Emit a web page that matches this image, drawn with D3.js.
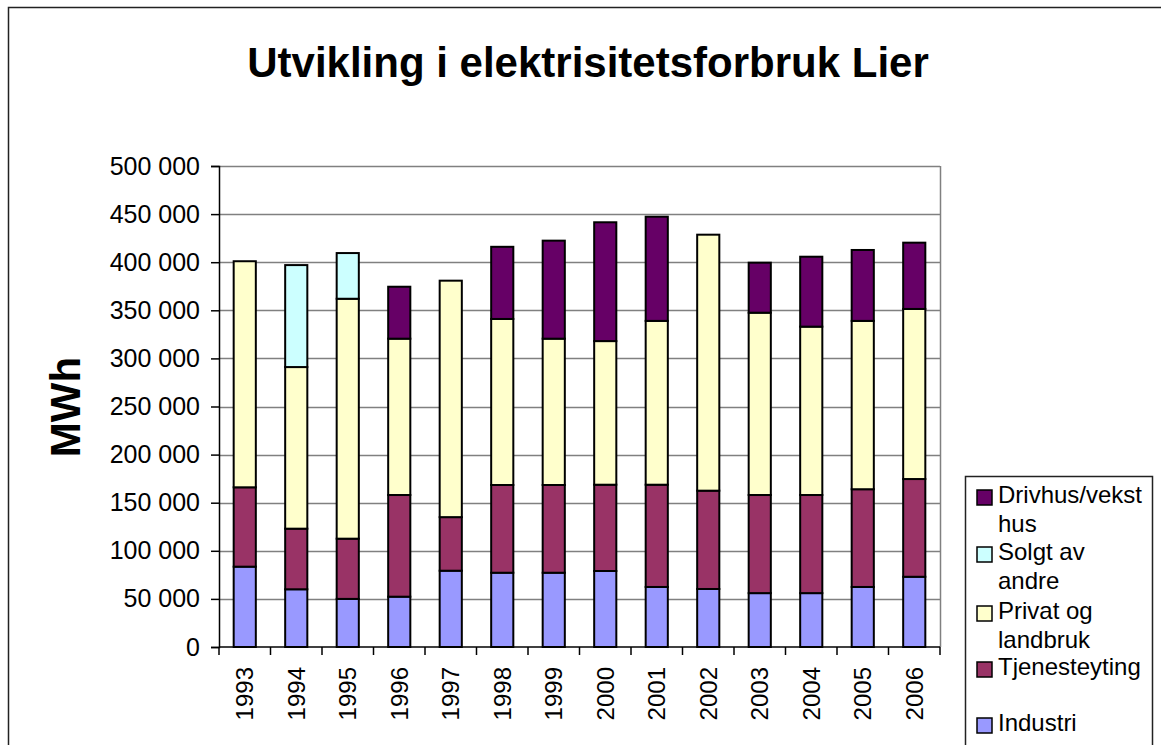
<!DOCTYPE html>
<html>
<head>
<meta charset="utf-8">
<script src="https://cdn.jsdelivr.net/npm/d3@7/dist/d3.min.js"></script>
<style>
  html, body { margin: 0; padding: 0; background: #fff; }
  svg { display: block; font-family: "Liberation Sans", Arial, sans-serif; }
</style>
</head>
<body>
<svg id="chart" width="1161" height="745"></svg>
<script>
// ---- data ----
const years = ["1993","1994","1995","1996","1997","1998","1999","2000","2001","2002","2003","2004","2005","2006"];
const industri      = [83500, 60000, 50000, 52300, 79300, 77200, 77200, 79000, 62400, 60300, 56000, 56000, 62400, 73000];
const tjenesteyting = [82500, 63000, 62600, 105700, 55700, 91200, 91200, 89700, 106300, 102200, 102000, 102000, 101600, 101600];
const privat        = [235000, 168000, 249400, 162500, 245800, 172600, 152100, 149300, 170300, 266100, 189500, 175000, 175000, 176800];
const solgt         = [0, 106000, 47500, 0, 0, 0, 0, 0, 0, 0, 0, 0, 0, 0];
const drivhus       = [0, 0, 0, 54000, 0, 75000, 101900, 123500, 108300, 0, 52000, 72700, 73700, 68900];
const yTicks = [0, 50000, 100000, 150000, 200000, 250000, 300000, 350000, 400000, 450000, 500000];
const seriesNames = ["Industri", "Tjenesteyting", "Privat og landbruk", "Solgt av andre", "Drivhus/veksthus"];
const titleText = "Utvikling i elektrisitetsforbruk Lier";
const yLabel = "MWh";

// ---- styles ----
const colors = ["#9999FF", "#993366", "#FFFFCC", "#CCFFFF", "#660066"];
const seriesArrays = [industri, tjenesteyting, privat, solgt, drivhus];
const keys = ["k0","k1","k2","k3","k4"];
const table = years.map((yr, i) => {
  const row = { year: yr };
  keys.forEach((k, j) => row[k] = seriesArrays[j][i]);
  return row;
});

const svg = d3.select("#chart");
const pLeft = 219, pRight = 940, pTop = 166, pBottom = 647;

// outer frame
svg.append("path")
  .attr("d", "M8.5,745 L8.5,7.5 L1161,7.5")
  .attr("fill", "none").attr("stroke", "#222").attr("stroke-width", 1.5);

// title
svg.append("text")
  .attr("x", 588).attr("y", 77)
  .attr("text-anchor", "middle")
  .attr("font-size", 42).attr("font-weight", "bold")
  .text(titleText);

const x = d3.scaleBand().domain(years).range([pLeft, pRight]).paddingInner(0.57).paddingOuter(0.285);
const y = d3.scaleLinear().domain([0, 500000]).range([pBottom, pTop]);

// gridlines
svg.append("g").selectAll("line").data(yTicks.filter(d => d > 0)).join("line")
  .attr("x1", pLeft).attr("x2", pRight)
  .attr("y1", d => Math.round(y(d)) + 0.5).attr("y2", d => Math.round(y(d)) + 0.5)
  .attr("stroke", "#808080").attr("stroke-width", 1.5);
// right border of plot area
svg.append("line")
  .attr("x1", pRight + 0.5).attr("x2", pRight + 0.5).attr("y1", pTop).attr("y2", pBottom)
  .attr("stroke", "#808080").attr("stroke-width", 1.5);

// bars
const stacked = d3.stack().keys(keys)(table);
svg.append("g").selectAll("g").data(stacked).join("g")
  .attr("fill", (d, i) => colors[i])
  .selectAll("rect").data(d => d.filter(s => s[1] - s[0] > 0)).join("rect")
  .attr("x", d => x(d.data.year))
  .attr("width", x.bandwidth())
  .attr("y", d => y(d[1]))
  .attr("height", d => y(d[0]) - y(d[1]))
  .attr("stroke", "#000").attr("stroke-width", 2);

// y axis
const yAxis = svg.append("g").attr("transform", `translate(${pLeft},0)`)
  .call(d3.axisLeft(y).tickValues(yTicks).tickSize(8).tickPadding(11)
    .tickFormat(d => d3.format(",")(d).replace(/,/g, " ")));
yAxis.select(".domain").attr("stroke", "#000").attr("stroke-width", 1.5);
yAxis.selectAll(".tick line").attr("stroke", "#000").attr("stroke-width", 1.5);
yAxis.selectAll(".tick text").attr("font-size", 25).attr("fill", "#000")
  .attr("font-family", "Liberation Sans, Arial, sans-serif");

// x axis line + ticks at category boundaries
const xAxis = svg.append("g");
xAxis.append("line").attr("x1", pLeft).attr("x2", pRight).attr("y1", pBottom).attr("y2", pBottom)
  .attr("stroke", "#000").attr("stroke-width", 1.5);
const bounds = d3.range(years.length + 1).map(i => pLeft + i * x.step());
xAxis.selectAll("line.tk").data(bounds).join("line").attr("class", "tk")
  .attr("x1", d => d).attr("x2", d => d).attr("y1", pBottom).attr("y2", pBottom + 8)
  .attr("stroke", "#000").attr("stroke-width", 1.5);
xAxis.selectAll("text").data(years).join("text")
  .attr("transform", d => `translate(${x(d) + x.bandwidth() / 2},667) rotate(-90)`)
  .attr("text-anchor", "end").attr("dy", "0.35em")
  .attr("font-size", 24)
  .text(d => d);

// y label
svg.append("text")
  .attr("transform", "translate(80,407) rotate(-90)")
  .attr("text-anchor", "middle")
  .attr("font-size", 42).attr("font-weight", "bold")
  .text(yLabel);

// legend
const lg = svg.append("g");
lg.append("path").attr("d", "M965.5,745 L965.5,476.5 L1152.5,476.5 L1152.5,745")
  .attr("fill", "#fff").attr("stroke", "#222").attr("stroke-width", 1.5);
const legendItems = [
  { idx: 4, lines: ["Drivhus/vekst", "hus"], sy: 490 },
  { idx: 3, lines: ["Solgt av", "andre"], sy: 547 },
  { idx: 2, lines: ["Privat og", "landbruk"], sy: 606 },
  { idx: 1, lines: ["Tjenesteyting"], sy: 662 },
  { idx: 0, lines: ["Industri"], sy: 718 }
];
legendItems.forEach(it => {
  lg.append("rect").attr("x", 977).attr("y", it.sy).attr("width", 15).attr("height", 15)
    .attr("fill", colors[it.idx]).attr("stroke", "#000").attr("stroke-width", 1.5);
  const t = lg.append("text").attr("x", 998).attr("y", it.sy + 13).attr("font-size", 24);
  it.lines.forEach((ln, k) => {
    t.append("tspan").attr("x", 998).attr("dy", k === 0 ? 0 : 29).text(ln);
  });
});
</script>
</body>
</html>
